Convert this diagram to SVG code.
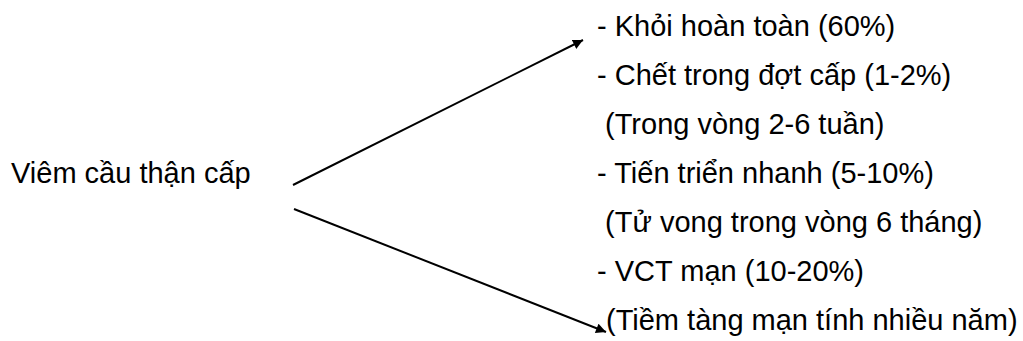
<svg xmlns="http://www.w3.org/2000/svg" width="1023" height="341" viewBox="0 0 1023 341">
<style>
text{font-family:"Liberation Sans",Arial,sans-serif;font-size:29px;fill:#000}
.c{stroke:#000;stroke-width:2;fill:none}
</style>
<defs>
<marker id="ah" viewBox="0 0 10 10" refX="10" refY="5" markerWidth="5.5" markerHeight="5" markerUnits="strokeWidth" orient="auto">
<path d="M0,0 L10,5 L0,10 z" fill="#000"/>
</marker>
</defs>
<rect width="1023" height="341" fill="#fff"/>
<g id="connectors">
<line class="c" x1="293" y1="185" x2="583" y2="40" marker-end="url(#ah)"/>
<line class="c" x1="294" y1="209" x2="606" y2="332" marker-end="url(#ah)"/>
</g>
<g id="source"><text x="11" y="183">Viêm cầu thận cấp</text></g>
<g id="outcomes">
<text x="597" y="36">- Khỏi hoàn toàn (60%)</text>
<text x="597" y="85">- Chết trong đợt cấp (1-2%)</text>
<text x="597" y="134" xml:space="preserve"> (Trong vòng 2-6 tuần)</text>
<text x="597" y="183">- Tiến triển nhanh (5-10%)</text>
<text x="597" y="232" xml:space="preserve"> (Tử vong trong vòng 6 tháng)</text>
<text x="597" y="281">- VCT mạn (10-20%)</text>
<text x="606" y="330">(Tiềm tàng mạn tính nhiều năm)</text>
</g>
</svg>
